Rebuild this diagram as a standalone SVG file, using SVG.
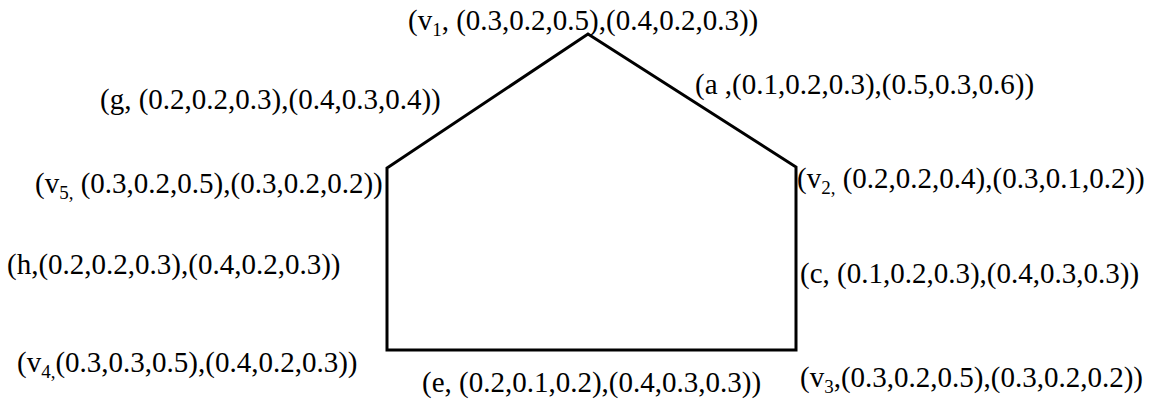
<svg xmlns="http://www.w3.org/2000/svg" width="1150" height="403" viewBox="0 0 1150 403">
<style>
text{font-family:"Liberation Serif","Times New Roman",serif;font-size:29px;fill:#000}
.s{font-size:19px}
.e{fill:none;stroke:#000;stroke-width:3;stroke-linejoin:miter}
</style>
<rect width="1150" height="403" fill="#fff"/>
<g id="connectors">
<path class="e" d="M387,350 L387,168 L588,34 L796,167 L796,350 Z"/>
</g>
<g id="v1"><text x="408" y="30">(v<tspan class="s" dy="6">1</tspan><tspan dy="-6">, (0.3,0.2,0.5),(0.4,0.2,0.3))</tspan></text></g>
<g id="a"><text x="695" y="94">(a ,(0.1,0.2,0.3),(0.5,0.3,0.6))</text></g>
<g id="g"><text x="100" y="109">(g, (0.2,0.2,0.3),(0.4,0.3,0.4))</text></g>
<g id="v5"><text x="35" y="193">(v<tspan class="s" dy="6">5,</tspan><tspan dy="-6"> (0.3,0.2,0.5),(0.3,0.2,0.2))</tspan></text></g>
<g id="v2"><text x="797" y="188">(v<tspan class="s" dy="6">2,</tspan><tspan dy="-6"> (0.2,0.2,0.4),(0.3,0.1,0.2))</tspan></text></g>
<g id="h"><text x="7" y="274">(h,(0.2,0.2,0.3),(0.4,0.2,0.3))</text></g>
<g id="c"><text x="800" y="283">(c, (0.1,0.2,0.3),(0.4,0.3,0.3))</text></g>
<g id="v4"><text x="17" y="372">(v<tspan class="s" dy="6">4,</tspan><tspan dy="-6">(0.3,0.3,0.5),(0.4,0.2,0.3))</tspan></text></g>
<g id="e"><text x="422" y="392">(e, (0.2,0.1,0.2),(0.4,0.3,0.3))</text></g>
<g id="v3"><text x="800" y="387">(v<tspan class="s" dy="6">3</tspan><tspan dy="-6">,(0.3,0.2,0.5),(0.3,0.2,0.2))</tspan></text></g>
</svg>
